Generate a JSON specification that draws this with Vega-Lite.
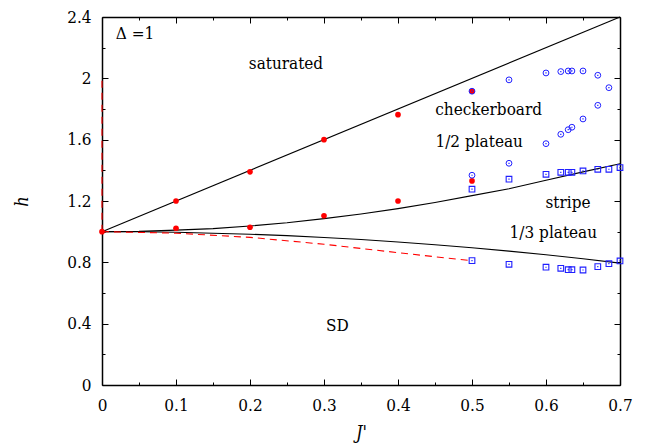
{
  "$schema": "https://vega.github.io/schema/vega-lite/v6.json",
  "width": 518,
  "height": 368,
  "autosize": {"type": "none"},
  "padding": {"left": 102, "top": 17, "right": 27, "bottom": 58},
  "background": "white",
  "config": {"view": {"stroke": null}, "font": "DejaVu Serif Condensed"},
  "datasets": {
    "lines": [
      {"s": "sat", "st": "solid", "x": 0, "h": 1},
      {"s": "sat", "st": "solid", "x": 0.7, "h": 2.4},
      {"s": "up", "st": "solid", "x": 0, "h": 1},
      {"s": "up", "st": "solid", "x": 0.05, "h": 1.002},
      {"s": "up", "st": "solid", "x": 0.1, "h": 1.01},
      {"s": "up", "st": "solid", "x": 0.15, "h": 1.02},
      {"s": "up", "st": "solid", "x": 0.2, "h": 1.037},
      {"s": "up", "st": "solid", "x": 0.25, "h": 1.058},
      {"s": "up", "st": "solid", "x": 0.3, "h": 1.085},
      {"s": "up", "st": "solid", "x": 0.35, "h": 1.115},
      {"s": "up", "st": "solid", "x": 0.4, "h": 1.15},
      {"s": "up", "st": "solid", "x": 0.45, "h": 1.19},
      {"s": "up", "st": "solid", "x": 0.5, "h": 1.235},
      {"s": "up", "st": "solid", "x": 0.55, "h": 1.28},
      {"s": "up", "st": "solid", "x": 0.6, "h": 1.335},
      {"s": "up", "st": "solid", "x": 0.65, "h": 1.39},
      {"s": "up", "st": "solid", "x": 0.7, "h": 1.443},
      {"s": "lo", "st": "solid", "x": 0, "h": 1},
      {"s": "lo", "st": "solid", "x": 0.05, "h": 0.999},
      {"s": "lo", "st": "solid", "x": 0.1, "h": 0.996},
      {"s": "lo", "st": "solid", "x": 0.15, "h": 0.99},
      {"s": "lo", "st": "solid", "x": 0.2, "h": 0.983},
      {"s": "lo", "st": "solid", "x": 0.25, "h": 0.974},
      {"s": "lo", "st": "solid", "x": 0.3, "h": 0.962},
      {"s": "lo", "st": "solid", "x": 0.35, "h": 0.949},
      {"s": "lo", "st": "solid", "x": 0.4, "h": 0.933},
      {"s": "lo", "st": "solid", "x": 0.45, "h": 0.915},
      {"s": "lo", "st": "solid", "x": 0.5, "h": 0.895},
      {"s": "lo", "st": "solid", "x": 0.55, "h": 0.873},
      {"s": "lo", "st": "solid", "x": 0.6, "h": 0.849},
      {"s": "lo", "st": "solid", "x": 0.65, "h": 0.823},
      {"s": "lo", "st": "solid", "x": 0.7, "h": 0.795},
      {"s": "rd", "st": "dash", "x": 0, "h": 1},
      {"s": "rd", "st": "dash", "x": 0.1, "h": 0.99},
      {"s": "rd", "st": "dash", "x": 0.2, "h": 0.963},
      {"s": "rd", "st": "dash", "x": 0.3, "h": 0.918},
      {"s": "rd", "st": "dash", "x": 0.4, "h": 0.863},
      {"s": "rd", "st": "dash", "x": 0.5, "h": 0.81},
      {"s": "rv", "st": "dash", "x": 0, "h": 1},
      {"s": "rv", "st": "dash", "x": 0, "h": 2}
    ],
    "pts": [
      {"k": "red", "x": 0, "h": 1},
      {"k": "red", "x": 0.1, "h": 1.2},
      {"k": "red", "x": 0.2, "h": 1.39},
      {"k": "red", "x": 0.3, "h": 1.6},
      {"k": "red", "x": 0.4, "h": 1.763},
      {"k": "red", "x": 0.5, "h": 1.916},
      {"k": "red", "x": 0.1, "h": 1.022},
      {"k": "red", "x": 0.2, "h": 1.029},
      {"k": "red", "x": 0.3, "h": 1.104},
      {"k": "red", "x": 0.4, "h": 1.2},
      {"k": "red", "x": 0.5, "h": 1.331},
      {"k": "circ", "x": 0.5, "h": 1.916},
      {"k": "circ", "x": 0.55, "h": 1.99},
      {"k": "circ", "x": 0.6, "h": 2.035},
      {"k": "circ", "x": 0.62, "h": 2.044},
      {"k": "circ", "x": 0.63, "h": 2.048},
      {"k": "circ", "x": 0.635, "h": 2.048},
      {"k": "circ", "x": 0.65, "h": 2.048},
      {"k": "circ", "x": 0.67, "h": 2.02},
      {"k": "circ", "x": 0.685, "h": 1.939},
      {"k": "circ", "x": 0.67, "h": 1.824},
      {"k": "circ", "x": 0.65, "h": 1.735},
      {"k": "circ", "x": 0.635, "h": 1.681},
      {"k": "circ", "x": 0.63, "h": 1.665},
      {"k": "circ", "x": 0.62, "h": 1.635},
      {"k": "circ", "x": 0.6, "h": 1.574},
      {"k": "circ", "x": 0.55, "h": 1.446},
      {"k": "circ", "x": 0.5, "h": 1.368},
      {"k": "sq", "x": 0.5, "h": 1.277},
      {"k": "sq", "x": 0.55, "h": 1.342},
      {"k": "sq", "x": 0.6, "h": 1.374},
      {"k": "sq", "x": 0.62, "h": 1.387},
      {"k": "sq", "x": 0.63, "h": 1.387},
      {"k": "sq", "x": 0.635, "h": 1.387},
      {"k": "sq", "x": 0.65, "h": 1.396},
      {"k": "sq", "x": 0.67, "h": 1.407},
      {"k": "sq", "x": 0.685, "h": 1.407},
      {"k": "sq", "x": 0.7, "h": 1.418},
      {"k": "sq", "x": 0.5, "h": 0.811},
      {"k": "sq", "x": 0.55, "h": 0.787},
      {"k": "sq", "x": 0.6, "h": 0.768},
      {"k": "sq", "x": 0.62, "h": 0.761},
      {"k": "sq", "x": 0.63, "h": 0.752},
      {"k": "sq", "x": 0.635, "h": 0.752},
      {"k": "sq", "x": 0.65, "h": 0.75},
      {"k": "sq", "x": 0.67, "h": 0.772},
      {"k": "sq", "x": 0.685, "h": 0.791},
      {"k": "sq", "x": 0.7, "h": 0.809}
    ],
    "labels": [
      {"t": "Δ =1", "x": 0.0446, "h": 2.257},
      {"t": "saturated", "x": 0.2486, "h": 2.061},
      {"t": "checkerboard", "x": 0.5225, "h": 1.761},
      {"t": "1/2 plateau", "x": 0.5097, "h": 1.555},
      {"t": "stripe", "x": 0.6297, "h": 1.157},
      {"t": "1/3 plateau", "x": 0.6099, "h": 0.961},
      {"t": "SD", "x": 0.318, "h": 0.354}
    ]
  },
  "layer": [
    {
      "data": {"name": "lines"},
      "transform": [{"filter": "datum.st == 'solid'"}],
      "mark": {"type": "line", "color": "black", "strokeWidth": 1.1},
      "encoding": {
        "x": {
          "field": "x", "type": "quantitative",
          "scale": {"domain": [0, 0.7], "nice": false, "zero": false},
          "axis": {
            "orient": "bottom",
            "values": [0, 0.05, 0.1, 0.15, 0.2, 0.25, 0.3, 0.35, 0.4, 0.45, 0.5, 0.55, 0.6, 0.65, 0.7],
            "format": "~g",
            "labelExpr": "round(datum.value*100)%10 == 0 ? datum.label : ''",
            "labelFlush": false,
            "labelOverlap": false,
            "labelFont": "DejaVu Serif Condensed",
            "labelFontSize": 17,
            "labelColor": "black",
            "labelPadding": 18,
            "tickSize": {"condition": {"test": "round(datum.value*100)%10 != 0", "value": -3}, "value": -6},
            "tickColor": "black",
            "domainColor": "black",
            "domainWidth": 1.5,
            "grid": false,
            "title": "J'",
            "titleFont": "DejaVu Serif Condensed",
            "titleFontSize": 18,
            "titleFontStyle": "italic",
            "titleFontWeight": "normal",
            "titleColor": "black",
            "titleY": 53,
            "titleBaseline": "alphabetic"
          }
        },
        "y": {
          "field": "h", "type": "quantitative",
          "scale": {"domain": [0, 2.4], "nice": false, "zero": false},
          "axis": {
            "orient": "left",
            "values": [0, 0.2, 0.4, 0.6, 0.8, 1, 1.2, 1.4, 1.6, 1.8, 2, 2.2, 2.4],
            "format": "~g",
            "labelExpr": "round(datum.value*10)%4 == 0 ? datum.label : ''",
            "labelOverlap": false,
            "labelFlush": false,
            "labelFont": "DejaVu Serif Condensed",
            "labelFontSize": 17,
            "labelColor": "black",
            "labelPadding": 17,
            "tickSize": {"condition": {"test": "round(datum.value*10)%4 != 0", "value": -3}, "value": -6},
            "tickColor": "black",
            "domainColor": "black",
            "domainWidth": 1.5,
            "grid": false,
            "title": "h",
            "titleFont": "DejaVu Serif Condensed",
            "titleFontSize": 18,
            "titleFontStyle": "italic",
            "titleFontWeight": "normal",
            "titleColor": "black",
            "titleX": -75,
            "titleBaseline": "alphabetic"
          }
        },
        "detail": {"field": "s"}
      }
    },
    {
      "data": {"name": "lines"},
      "transform": [{"filter": "datum.st == 'dash'"}],
      "mark": {"type": "line", "color": "#ff0000", "strokeWidth": 1.1, "strokeDash": [7, 5]},
      "encoding": {
        "x": {"field": "x", "type": "quantitative", "axis": null},
        "y": {"field": "h", "type": "quantitative", "axis": null},
        "detail": {"field": "s"}
      }
    },
    {
      "data": {"name": "pts"},
      "transform": [{"filter": "datum.k == 'red'"}],
      "mark": {"type": "circle", "color": "#ff0000", "size": 32, "opacity": 1},
      "encoding": {
        "x": {"field": "x", "type": "quantitative", "axis": null},
        "y": {"field": "h", "type": "quantitative", "axis": null}
      }
    },
    {
      "data": {"name": "pts"},
      "transform": [{"filter": "datum.k == 'circ'"}],
      "mark": {"type": "point", "shape": "circle", "filled": false, "color": "#1f1fff", "size": 34, "strokeWidth": 1, "opacity": 1},
      "encoding": {
        "x": {"field": "x", "type": "quantitative", "axis": null},
        "y": {"field": "h", "type": "quantitative", "axis": null}
      }
    },
    {
      "data": {"name": "pts"},
      "transform": [{"filter": "datum.k == 'sq'"}],
      "mark": {"type": "point", "shape": "square", "filled": false, "color": "#1f1fff", "size": 32, "strokeWidth": 1.1, "opacity": 1},
      "encoding": {
        "x": {"field": "x", "type": "quantitative", "axis": null},
        "y": {"field": "h", "type": "quantitative", "axis": null}
      }
    },
    {
      "data": {"name": "pts"},
      "transform": [{"filter": "datum.k != 'red'"}],
      "mark": {"type": "point", "shape": "square", "filled": true, "color": "#1f1fff", "size": 1.5, "opacity": 1},
      "encoding": {
        "x": {
          "field": "x", "type": "quantitative",
          "axis": {
            "orient": "top",
            "values": [0, 0.05, 0.1, 0.15, 0.2, 0.25, 0.3, 0.35, 0.4, 0.45, 0.5, 0.55, 0.6, 0.65, 0.7],
            "labels": false,
            "title": null,
            "grid": false,
            "tickSize": {"condition": {"test": "round(datum.value*100)%10 != 0", "value": -3}, "value": -6},
            "tickColor": "black",
            "domainColor": "black",
            "domainWidth": 1.5
          }
        },
        "y": {
          "field": "h", "type": "quantitative",
          "axis": {
            "orient": "right",
            "values": [0, 0.2, 0.4, 0.6, 0.8, 1, 1.2, 1.4, 1.6, 1.8, 2, 2.2, 2.4],
            "labels": false,
            "title": null,
            "grid": false,
            "tickSize": {"condition": {"test": "round(datum.value*10)%4 != 0", "value": -3}, "value": -6},
            "tickColor": "black",
            "domainColor": "black",
            "domainWidth": 1.5
          }
        }
      }
    },
    {
      "data": {"name": "labels"},
      "mark": {"type": "text", "font": "DejaVu Serif Condensed", "fontSize": 17, "color": "black", "align": "center", "baseline": "alphabetic"},
      "encoding": {
        "x": {"field": "x", "type": "quantitative", "axis": null},
        "y": {"field": "h", "type": "quantitative", "axis": null},
        "text": {"field": "t"}
      }
    }
  ],
  "resolve": {"axis": {"x": "independent", "y": "independent"}}
}
